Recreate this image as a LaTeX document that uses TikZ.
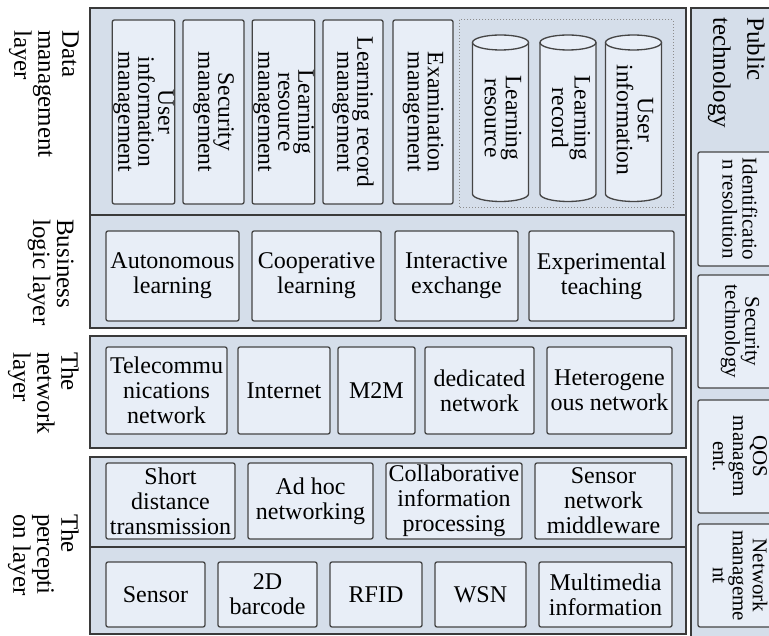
\documentclass[tikz,border=0pt]{standalone}
\usepackage{fontspec}
\setmainfont{Liberation Serif}
\definecolor{panelc}{HTML}{D5DEEA}
\definecolor{boxc}{HTML}{E8EEF7}
\definecolor{edgec}{HTML}{3A3A3A}
\definecolor{boxedge}{HTML}{454545}
\tikzset{
  panel/.style={draw=edgec, fill=panelc, line width=1.8pt},
  divl/.style={draw=edgec, line width=1.6pt},
  bx/.style={draw=boxedge, fill=boxc, line width=1.3pt, rounded corners=2pt, align=center, inner sep=1pt, font=\fontsize{24}{25}\selectfont},
  vbx/.style={bx, rotate=-90, font=\fontsize{23.5}{20}\selectfont},
  rbx/.style={bx, rotate=-90, font=\fontsize{21}{20}\selectfont},
  cylst/.style={draw=boxedge, fill=boxc, line width=1.3pt},
  cyltxt/.style={rotate=-90, align=center, inner sep=0pt, font=\fontsize{23.5}{21}\selectfont},
  lbl/.style={rotate=-90, align=left, inner sep=0pt, anchor=north west, font=\fontsize{25}{24}\selectfont},
  dotbox/.style={draw=black!45, line width=1pt, dash pattern=on 1pt off 2pt}
}
\newcommand{\mycyl}[1]{%
  \draw[cylst] (#1-28,42.5) -- (#1-28,194) arc[start angle=180,end angle=360,x radius=28pt,y radius=7.5pt] -- (#1+28,42.5);
  \draw[cylst] (#1,42.5) ellipse[x radius=28pt,y radius=7.5pt];}
\begin{document}
\begin{tikzpicture}[x=1pt,y=-1pt]
\useasboundingbox (0,0) rectangle (769,636);
\clip (0,0) rectangle (769,636);
% panels
\draw[panel] (90,8) rectangle (686,328);
\draw[divl] (90,215) -- (686,215);
\draw[panel] (90,336) rectangle (686,448);
\draw[panel] (90,457) rectangle (686,634);
\draw[divl] (90,547) -- (686,547);
\draw[panel] (691,8) rectangle (790,645);
% left labels
\node[lbl] (ldata) at (79,30) {Data\\management\\layer};
\node[lbl] (lbus) at (74,219) {Business\\logic layer};
\node[lbl] (lnet) at (79,352) {The\\network\\layer};
\node[lbl] (lper) at (79,514) {The\\percepti\\on layer};
% data management layer
\node[vbx, minimum width=184pt, minimum height=61pt] (uim) at (143.5,112) {User\\information\\management};
\node[vbx, minimum width=184pt, minimum height=61pt] (sm) at (213.5,112) {Security\\management};
\node[vbx, minimum width=184pt, minimum height=61pt] (lrm) at (283.5,112) {Learning\\resource\\management};
\node[vbx, minimum width=184pt, minimum height=60pt] (lrecm) at (353,112) {Learning record\\management};
\node[vbx, minimum width=184pt, minimum height=60pt] (exm) at (423,112) {Examination\\management};
\draw[dotbox] (459,20) rectangle (673,208);
\mycyl{500.5}
\mycyl{568}
\mycyl{633.5}
\node[cyltxt] (clr) at (503,118) {Learning\\resource};
\node[cyltxt] (clrec) at (571,118) {Learning\\record};
\node[cyltxt] (cui) at (635,120) {User\\information};
% business logic layer
\node[bx, minimum width=133pt, minimum height=90pt] (auto) at (172.5,276) {Autonomous\\learning};
\node[bx, minimum width=129pt, minimum height=90pt] (coop) at (316.5,276) {Cooperative\\learning};
\node[bx, minimum width=123pt, minimum height=90pt] (inter) at (456.5,276) {Interactive\\exchange};
\node[bx, minimum width=145pt, minimum height=90pt] (exper) at (601.5,276) {Experimental\\teaching};
% network layer
\node[bx, minimum width=121pt, minimum height=87pt] (tele) at (166.5,390.5) {Telecommu\\nications\\network};
\node[bx, minimum width=92pt, minimum height=87pt] (inet) at (284,390.5) {Internet};
\node[bx, minimum width=77pt, minimum height=87pt] (mm) at (376.5,390.5) {M2M};
\node[bx, minimum width=109pt, minimum height=87pt] (ded) at (479.5,390.5) {dedicated\\network};
\node[bx, minimum width=125pt, minimum height=87pt] (het) at (609.5,390.5) {Heterogene\\ous network};
% perception layer, upper row
\node[bx, minimum width=129pt, minimum height=76pt] (sdt) at (170.5,501) {Short\\distance\\transmission};
\node[bx, minimum width=125pt, minimum height=76pt] (adh) at (310.5,501) {Ad hoc\\networking};
\node[bx, minimum width=136pt, minimum height=76pt] (cip) at (454,501) {Collaborative\\information\\processing};
\node[bx, minimum width=137pt, minimum height=76pt] (snm) at (603.5,501) {Sensor\\network\\middleware};
% perception layer, lower row
\node[bx, minimum width=99pt, minimum height=65pt] (sens) at (155.5,594.5) {Sensor};
\node[bx, minimum width=99pt, minimum height=65pt] (bar) at (267.5,594.5) {2D\\barcode};
\node[bx, minimum width=92pt, minimum height=65pt] (rfid) at (376,594.5) {RFID};
\node[bx, minimum width=91pt, minimum height=65pt] (wsn) at (480.5,594.5) {WSN};
\node[bx, minimum width=133pt, minimum height=65pt] (mmi) at (605.5,594.5) {Multimedia\\information};
% public technology column
\node[lbl, font=\fontsize{25}{34}\selectfont] (pub) at (765,17) {Public\\technology};
\node[rbx, minimum width=114pt, minimum height=84pt] (idr) at (740,209) {Identificatio\\n resolution};
\node[rbx, minimum width=113pt, minimum height=84pt] (sec) at (740,331.5) {Security\\technology};
\node[rbx, minimum width=113pt, minimum height=84pt] (qos) at (740,456.5) {QOS\\managem\\ent.};
\node[rbx, minimum width=103pt, minimum height=84pt] (nm) at (740,575.5) {Network\\manageme\\nt};
\end{tikzpicture}
\end{document}
